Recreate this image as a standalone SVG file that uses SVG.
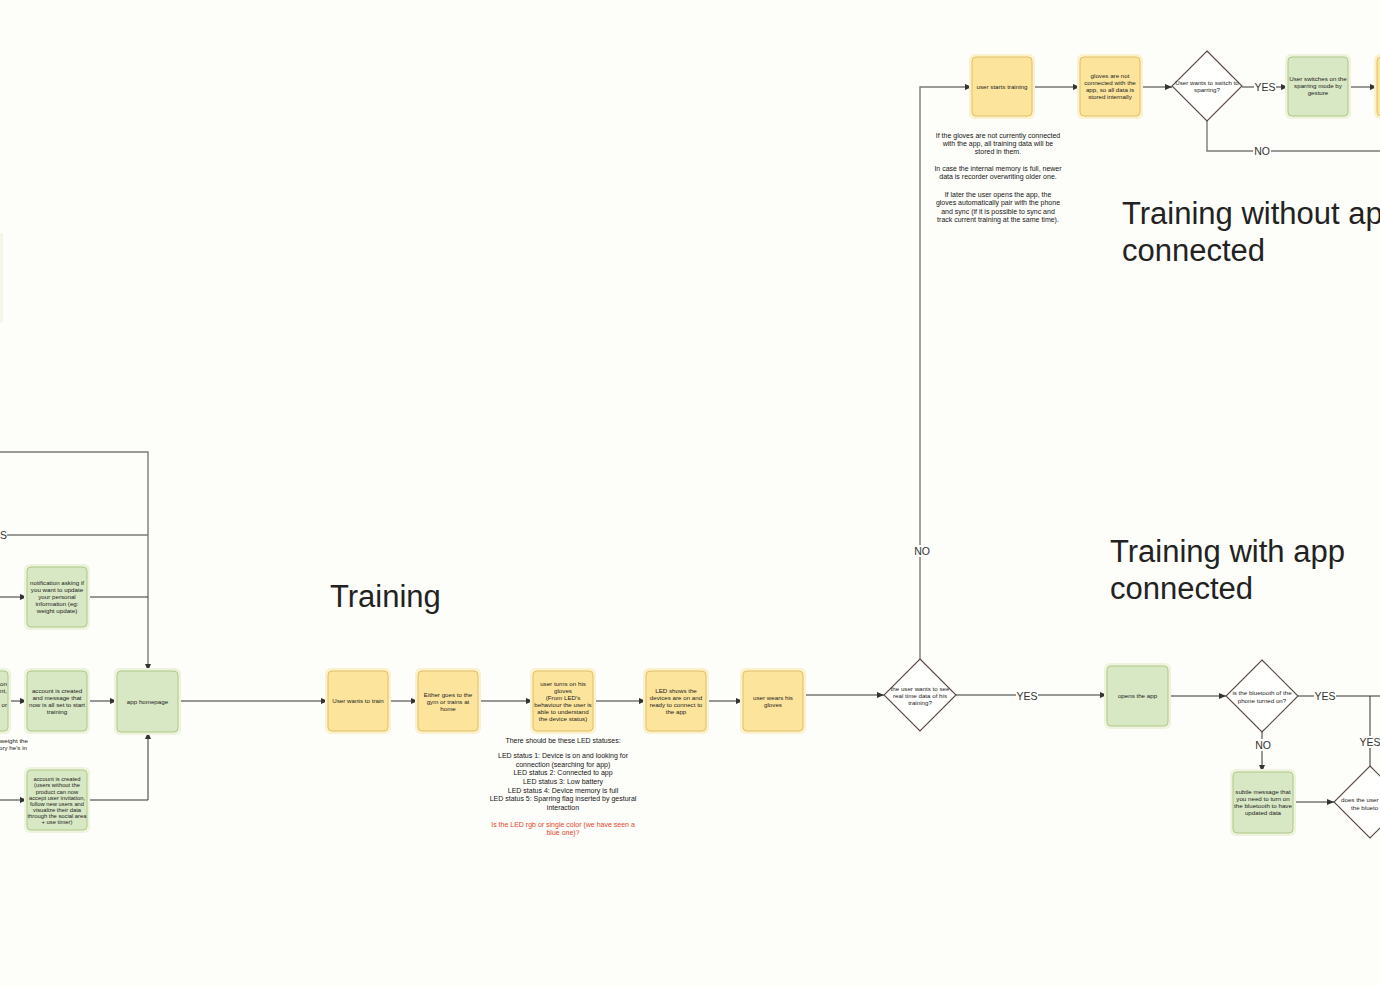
<svg xmlns="http://www.w3.org/2000/svg" width="1380" height="986" viewBox="0 0 1380 986">
<defs>
<marker id="ah" markerUnits="userSpaceOnUse" markerWidth="7" markerHeight="6" refX="7" refY="3" orient="auto"><path d="M0,0 L7,3 L0,6 z" fill="#333"/></marker>
<style>
.by{fill:#fce49c;stroke:#e0bf66;stroke-width:1}
.bg{fill:#d8e7c4;stroke:#b0c888;stroke-width:1}
.gy{fill:#fbf1cd}
.gg{fill:#edf3dc}
.dm{fill:#fffffd;stroke:#5a4845;stroke-width:1.1}
.t{font-family:"Liberation Sans",Arial,sans-serif;font-size:6.2px;fill:#1c1c1c;text-anchor:middle}
.n{font-family:"Liberation Sans",Arial,sans-serif;font-size:7px;fill:#151515;text-anchor:middle}
.r{fill:#e2452c}
.lbl{font-family:"Liberation Sans",Arial,sans-serif;font-size:10.5px;fill:#333;text-anchor:middle}
.ttl{font-family:"Liberation Sans",Arial,sans-serif;font-size:31px;fill:#222}
.c{stroke:#333;stroke-width:1;fill:none}
.cg{stroke:#7a7a7a;stroke-width:1.4;fill:none}
.lb{fill:#fdfdf9}
</style>
</defs>
<rect width="1380" height="986" fill="#fdfdf9"/>
<rect x="-4" y="233" width="7" height="90" fill="#f7f5e6"/>

<g id="connectors">
<path class="cg" d="M0,452 H148 V671" marker-end="url(#ah)"/>
<path class="cg" d="M7,535 H148"/>
<path class="c" d="M0,597 H27" marker-end="url(#ah)"/>
<path class="c" d="M87,597 H148"/>
<path class="c" d="M8,701 H27" marker-end="url(#ah)"/>
<path class="c" d="M87,701 H117" marker-end="url(#ah)"/>
<path class="c" d="M0,800 H27" marker-end="url(#ah)"/>
<path class="c" d="M87,800 H148 V732" marker-end="url(#ah)"/>
<path class="c" d="M178,701 H328" marker-end="url(#ah)"/>
<path class="c" d="M388,701 H418" marker-end="url(#ah)"/>
<path class="c" d="M478,701 H533" marker-end="url(#ah)"/>
<path class="c" d="M593,701 H646" marker-end="url(#ah)"/>
<path class="c" d="M706,701 H743" marker-end="url(#ah)"/>
<path class="c" d="M803,695 H884" marker-end="url(#ah)"/>
<path class="c" d="M956,695 H1107" marker-end="url(#ah)"/>
<path class="cg" d="M920,659 V87 H972" marker-end="url(#ah)"/>
<path class="c" d="M1032,87 H1080" marker-end="url(#ah)"/>
<path class="c" d="M1140,87 H1172" marker-end="url(#ah)"/>
<path class="c" d="M1242,87 H1288" marker-end="url(#ah)"/>
<path class="c" d="M1348,87 H1377" marker-end="url(#ah)"/>
<path class="cg" d="M1207,121 V151 H1380"/>
<path class="c" d="M1168,696 H1226" marker-end="url(#ah)"/>
<path class="c" d="M1298,696 H1380"/>
<path class="c" d="M1370,766 V696"/>
<path class="c" d="M1262,732 V772" marker-end="url(#ah)"/>
<path class="c" d="M1293,802 H1334" marker-end="url(#ah)"/>
<rect class="lb" x="1254" y="81" width="22" height="12"/><text class="lbl" x="1265" y="91">YES</text>
<rect class="lb" x="1253" y="145" width="18" height="12"/><text class="lbl" x="1262" y="155">NO</text>
<rect class="lb" x="913" y="545" width="18" height="12"/><text class="lbl" x="922" y="555">NO</text>
<rect class="lb" x="1016" y="690" width="22" height="12"/><text class="lbl" x="1027" y="700">YES</text>
<rect class="lb" x="1314" y="690" width="22" height="12"/><text class="lbl" x="1325" y="700">YES</text>
<rect class="lb" x="1359" y="736" width="22" height="12"/><text class="lbl" x="1370" y="746">YES</text>
<rect class="lb" x="1254" y="739" width="18" height="12"/><text class="lbl" x="1263" y="749">NO</text>
<text class="lbl" x="7" y="539" style="text-anchor:end">S</text>
</g>

<g id="titles">
<text class="ttl" x="330" y="607">Training</text>
<text class="ttl" x="1122" y="224">Training without ap</text>
<text class="ttl" x="1122" y="261">connected</text>
<text class="ttl" x="1110" y="562">Training with app</text>
<text class="ttl" x="1110" y="599">connected</text>
</g>

<g id="note-offline">
<text class="n"><tspan x="998" y="138">If the gloves are not currently connected</tspan><tspan x="998" y="146">with the app, all training data will be</tspan><tspan x="998" y="154">stored in them.</tspan><tspan x="998" y="171">In case the internal memory is full, newer</tspan><tspan x="998" y="179">data is recorder overwriting older one.</tspan><tspan x="998" y="197">If later the user opens the app, the</tspan><tspan x="998" y="205">gloves automatically pair with the phone</tspan><tspan x="998" y="214">and sync (if it is possible to sync and</tspan><tspan x="998" y="222">track current training at the same time).</tspan></text>
</g>

<g id="note-led">
<text class="n"><tspan x="563" y="743">There should be these LED statuses:</tspan><tspan x="563" y="758">LED status 1: Device is on and looking for</tspan><tspan x="563" y="767">connection (searching for app)</tspan><tspan x="563" y="775">LED status 2: Connected to app</tspan><tspan x="563" y="784">LED status 3: Low battery</tspan><tspan x="563" y="793">LED status 4: Device memory is full</tspan><tspan x="563" y="801">LED status 5: Sparring flag inserted by gestural</tspan><tspan x="563" y="810">interaction</tspan></text>
<text class="n r"><tspan x="563" y="827">Is the LED rgb or single color (we have seen a</tspan><tspan x="563" y="835">blue one)?</tspan></text>
</g>

<g id="left-partial">
<rect class="gg" x="-55" y="668" width="66" height="66" rx="6"/>
<rect class="bg" x="-52" y="671" width="60" height="60" rx="4"/>
<text class="t" style="text-anchor:end"><tspan x="7" y="686">on</tspan><tspan x="7" y="693">nt,</tspan><tspan x="7" y="707">or</tspan></text>
<text class="t" style="text-anchor:end"><tspan x="28" y="743">weight the</tspan><tspan x="27" y="750">ory he's in</tspan></text>
</g>

<g id="notification">
<rect class="gg" x="24" y="564" width="66" height="66" rx="6"/>
<rect class="bg" x="27" y="567" width="60" height="60" rx="4"/>
<text class="t"><tspan x="57" y="585">notification asking if</tspan><tspan x="57" y="592">you want to update</tspan><tspan x="57" y="599">your personal</tspan><tspan x="57" y="606">information (eg:</tspan><tspan x="57" y="613">weight update)</tspan></text>
</g>

<g id="account-created">
<rect class="gg" x="24" y="668" width="66" height="66" rx="6"/>
<rect class="bg" x="27" y="671" width="60" height="60" rx="4"/>
<text class="t"><tspan x="57" y="693">account is created</tspan><tspan x="57" y="700">and message that</tspan><tspan x="57" y="707">now is all set to start</tspan><tspan x="57" y="714">training</tspan></text>
</g>

<g id="account-created-noproduct">
<rect class="gg" x="24" y="767" width="66" height="66" rx="6"/>
<rect class="bg" x="27" y="770" width="60" height="60" rx="4"/>
<text class="t" style="font-size:5.8px"><tspan x="57" y="781">account is created</tspan><tspan x="57" y="787">(users without the</tspan><tspan x="57" y="794">product can now</tspan><tspan x="57" y="800">accept user invitation,</tspan><tspan x="57" y="806">follow new users and</tspan><tspan x="57" y="812">visualize their data</tspan><tspan x="57" y="818">through the social area</tspan><tspan x="57" y="824">+ use timer)</tspan></text>
</g>

<g id="app-homepage">
<rect class="gg" x="114" y="668" width="67" height="67" rx="6"/>
<rect class="bg" x="117" y="671" width="61" height="61" rx="4"/>
<text class="t" x="147.5" y="704">app homepage</text>
</g>

<g id="user-wants-train">
<rect class="gy" x="325" y="668" width="66" height="66" rx="6"/>
<rect class="by" x="328" y="671" width="60" height="60" rx="4"/>
<text class="t" x="358" y="703">User wants to train</text>
</g>

<g id="gym-or-home">
<rect class="gy" x="415" y="668" width="66" height="66" rx="6"/>
<rect class="by" x="418" y="671" width="60" height="60" rx="4"/>
<text class="t"><tspan x="448" y="697">Either goes to the</tspan><tspan x="448" y="704">gym or trains at</tspan><tspan x="448" y="711">home</tspan></text>
</g>

<g id="turns-on-gloves">
<rect class="gy" x="530" y="668" width="66" height="66" rx="6"/>
<rect class="by" x="533" y="671" width="60" height="60" rx="4"/>
<text class="t"><tspan x="563" y="686">user turns on his</tspan><tspan x="563" y="693">gloves</tspan><tspan x="563" y="700">(From LED's</tspan><tspan x="563" y="707">behaviour the user is</tspan><tspan x="563" y="714">able to understand</tspan><tspan x="563" y="721">the device status)</tspan></text>
</g>

<g id="led-shows">
<rect class="gy" x="643" y="668" width="66" height="66" rx="6"/>
<rect class="by" x="646" y="671" width="60" height="60" rx="4"/>
<text class="t"><tspan x="676" y="693">LED shows the</tspan><tspan x="676" y="700">devices are on and</tspan><tspan x="676" y="707">ready to connect to</tspan><tspan x="676" y="714">the app</tspan></text>
</g>

<g id="wears-gloves">
<rect class="gy" x="740" y="668" width="66" height="66" rx="6"/>
<rect class="by" x="743" y="671" width="60" height="60" rx="4"/>
<text class="t"><tspan x="773" y="700">user wears his</tspan><tspan x="773" y="707">gloves</tspan></text>
</g>

<g id="decision-realtime">
<polygon class="dm" points="920,659 956,695 920,731 884,695"/>
<text class="t"><tspan x="920" y="691">the user wants to see</tspan><tspan x="920" y="698">real time data of his</tspan><tspan x="920" y="705">training?</tspan></text>
</g>

<g id="user-starts-training">
<rect class="gy" x="969" y="54" width="66" height="65" rx="6"/>
<rect class="by" x="972" y="57" width="60" height="59" rx="4"/>
<text class="t" x="1002" y="89">user starts training</text>
</g>

<g id="gloves-not-connected">
<rect class="gy" x="1077" y="54" width="66" height="65" rx="6"/>
<rect class="by" x="1080" y="57" width="60" height="59" rx="4"/>
<text class="t"><tspan x="1110" y="78">gloves are not</tspan><tspan x="1110" y="85">connected with the</tspan><tspan x="1110" y="92">app, so all data is</tspan><tspan x="1110" y="99">stored internally</tspan></text>
</g>

<g id="decision-sparring">
<polygon class="dm" points="1207,51 1242,86 1207,121 1172,86"/>
<text class="t"><tspan x="1207" y="85">User wants to switch to</tspan><tspan x="1207" y="92">sparring?</tspan></text>
</g>

<g id="sparring-mode">
<rect class="gg" x="1285" y="54" width="66" height="65" rx="6"/>
<rect class="bg" x="1288" y="57" width="60" height="59" rx="4"/>
<text class="t"><tspan x="1318" y="81">User switches on the</tspan><tspan x="1318" y="88">sparring mode by</tspan><tspan x="1318" y="95">gesture</tspan></text>
</g>

<g id="next-offline">
<rect class="gy" x="1374" y="54" width="66" height="65" rx="6"/>
<rect class="by" x="1377" y="57" width="60" height="59" rx="4"/>
</g>

<g id="opens-app">
<rect class="gg" x="1104" y="663" width="67" height="66" rx="6"/>
<rect class="bg" x="1107" y="666" width="61" height="60" rx="4"/>
<text class="t" x="1137.5" y="698">opens the app</text>
</g>

<g id="decision-bluetooth">
<polygon class="dm" points="1262,660 1298,696 1262,732 1226,696"/>
<text class="t"><tspan x="1262" y="695">is the bluetooth of the</tspan><tspan x="1262" y="703">phone turned on?</tspan></text>
</g>

<g id="subtle-message">
<rect class="gg" x="1230" y="769" width="66" height="67" rx="6"/>
<rect class="bg" x="1233" y="772" width="60" height="61" rx="4"/>
<text class="t"><tspan x="1263" y="794">subtle message that</tspan><tspan x="1263" y="801">you need to turn on</tspan><tspan x="1263" y="808">the bluetooth to have</tspan><tspan x="1263" y="815">updated data</tspan></text>
</g>

<g id="decision-user-bluetooth">
<polygon class="dm" points="1370,766 1406,802 1370,838 1334,802"/>
<text class="t" style="text-anchor:start"><tspan x="1341" y="802">does the user t</tspan><tspan x="1351" y="810">the blueto</tspan></text>
</g>
</svg>
